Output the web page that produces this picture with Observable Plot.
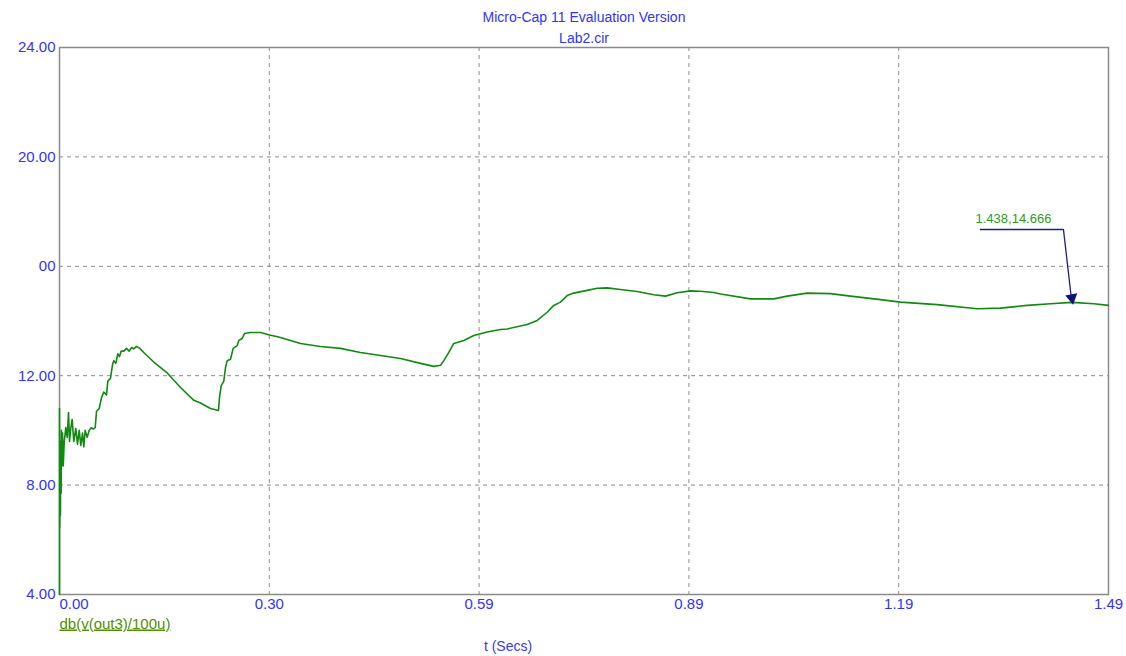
<!DOCTYPE html>
<html>
<head>
<meta charset="utf-8">
<script src="https://cdn.jsdelivr.net/npm/d3@7"></script>
<script src="https://cdn.jsdelivr.net/npm/@observablehq/plot@0.6"></script>
<style>
  html, body { margin: 0; padding: 0; background: #fff; }
  #chart svg { display: block; }
  .underlined text { text-decoration: underline; }
</style>
</head>
<body>
<div id="chart"></div>
<script>
// ---- data ----
const times = [0, 0, 0.0004, 0.0009, 0.0013, 0.0018, 0.0023, 0.0028, 0.0033, 0.0043, 0.0053, 0.0067, 0.0089, 0.0109, 0.0128, 0.0142, 0.0161, 0.018, 0.0203, 0.0232, 0.0256, 0.028, 0.0303, 0.0327, 0.0345, 0.0365, 0.0393, 0.0422, 0.045, 0.0479, 0.0507, 0.0526, 0.0564, 0.0597, 0.0629, 0.0668, 0.0686, 0.0724, 0.0753, 0.0771, 0.08, 0.0828, 0.0852, 0.0876, 0.0913, 0.0952, 0.099, 0.1027, 0.1055, 0.1094, 0.1141, 0.1197, 0.1339, 0.153, 0.1719, 0.1908, 0.2003, 0.2145, 0.2258, 0.2272, 0.2297, 0.2334, 0.2358, 0.2382, 0.2429, 0.2467, 0.2524, 0.2547, 0.2595, 0.2628, 0.2713, 0.2855, 0.2973, 0.3139, 0.3423, 0.3707, 0.3991, 0.4275, 0.456, 0.4844, 0.5128, 0.5317, 0.5412, 0.5459, 0.553, 0.56, 0.5743, 0.5885, 0.6075, 0.6264, 0.6359, 0.6643, 0.6785, 0.6927, 0.7021, 0.7116, 0.7211, 0.7305, 0.7495, 0.7638, 0.7779, 0.7968, 0.8206, 0.8441, 0.8608, 0.8774, 0.8963, 0.9105, 0.9294, 0.9389, 0.9815, 1.0146, 1.0336, 1.062, 1.0951, 1.1235, 1.1661, 1.1946, 1.2467, 1.3035, 1.3366, 1.3745, 1.4076, 1.438, 1.4692, 1.49];
const dbValues = [4.0, 10.8, 6.45, 9.6, 6.9, 9.0, 7.7, 10.0, 8.7, 9.9, 8.7, 9.56, 10.1, 9.74, 10.65, 9.6, 10.1, 10.4, 9.6, 10.07, 9.5, 10.0, 9.45, 9.9, 9.4, 10.0, 9.75, 10.0, 10.1, 10.05, 10.1, 10.7, 10.8, 11.2, 11.4, 11.3, 11.8, 11.9, 12.4, 12.55, 12.45, 12.8, 12.7, 12.9, 12.9, 13.0, 12.9, 13.03, 12.98, 13.07, 13.0, 12.85, 12.5, 12.1, 11.57, 11.1, 11.0, 10.8, 10.73, 11.2, 11.64, 11.8, 12.3, 12.55, 12.6, 13.0, 13.1, 13.29, 13.36, 13.54, 13.58, 13.58, 13.5, 13.4, 13.18, 13.07, 13.0, 12.85, 12.74, 12.63, 12.45, 12.34, 12.38, 12.55, 12.85, 13.18, 13.29, 13.47, 13.6, 13.69, 13.71, 13.87, 14.02, 14.32, 14.57, 14.69, 14.93, 15.02, 15.12, 15.2, 15.21, 15.15, 15.08, 14.96, 14.91, 15.03, 15.1, 15.09, 15.04, 14.99, 14.81, 14.81, 14.91, 15.02, 15.0, 14.91, 14.78, 14.69, 14.6, 14.45, 14.47, 14.57, 14.63, 14.68, 14.63, 14.57];

const xTickValues = [0, 0.298, 0.596, 0.894, 1.192, 1.49];
const xTickLabels = ["0.00", "0.30", "0.59", "0.89", "1.19", "1.49"];
const yTickValues = [4, 8, 12, 16, 20, 24];
const yTickLabels = ["4.00", "8.00", "12.00", "00", "20.00", "24.00"];

const titleLines = ["Micro-Cap 11 Evaluation Version", "Lab2.cir"];
const seriesLabel = "db(v(out3)/100u)";
const xAxisLabel = "t (Secs)";

// annotation: point and the label anchor (data units)
const annotPoint = {t: 1.438, v: 14.666, text: "1.438,14.666"};
const annotLabel = {tStart: 1.308, tEnd: 1.426, v: 17.35};

// ---- build ----
const data = times.map((t, i) => ({t, v: dbValues[i]}));
const xTicks = xTickValues.map((x, i) => ({x, label: xTickLabels[i]}));
const yTicks = yTickValues.map((y, i) => ({y, label: yTickLabels[i]}));

const blue = "#3333ff";
const gridColor = "#8c8c8c";
const font = "'Liberation Sans', Arial, sans-serif";

const chart = Plot.plot({
  width: 1126,
  height: 656,
  marginLeft: 59,
  marginRight: 18,
  marginTop: 47,
  marginBottom: 62,
  style: {fontFamily: font, fontSize: "15px", background: "#fff"},
  x: {domain: [0, 1.49], axis: null},
  y: {domain: [4, 24], axis: null},
  marks: [
    // grid
    Plot.ruleX(xTicks.slice(1, -1), {x: "x", stroke: gridColor, strokeDasharray: "4,4", strokeWidth: 1}),
    Plot.ruleY(yTicks.slice(1, -1), {y: "y", stroke: gridColor, strokeDasharray: "4,4", strokeWidth: 1}),
    Plot.frame({stroke: "#8a8a8a", strokeWidth: 1.5}),
    // y tick labels
    Plot.text(yTicks, {x: 0, y: "y", text: "label", textAnchor: "end", dx: -4, fill: blue, fontSize: 15}),
    // x tick labels
    Plot.text(xTicks.slice(0, 1), {x: "x", text: "label", frameAnchor: "bottom", dy: 14, textAnchor: "start", fill: blue, fontSize: 15}),
    Plot.text(xTicks.slice(1), {x: "x", text: "label", frameAnchor: "bottom", dy: 14, textAnchor: "middle", fill: blue, fontSize: 15}),
    // title
    Plot.text([titleLines[0]], {frameAnchor: "top", dy: -35, fill: blue, fontSize: 14}),
    Plot.text([titleLines[1]], {frameAnchor: "top", dy: -14, fill: blue, fontSize: 14}),
    // series label and x label
    Plot.text([seriesLabel], {frameAnchor: "bottom-left", dy: 34, textAnchor: "start", fill: "#4f8f00", fontSize: 15, className: "underlined"}),
    Plot.text([xAxisLabel], {frameAnchor: "bottom", dx: -76, dy: 56, fill: "#3a3aee", fontSize: 14}),
    // data line
    Plot.line(data, {x: "t", y: "v", stroke: "#118a11", strokeWidth: 1.6}),
    // annotation
    Plot.ruleY([annotLabel], {x1: "tStart", x2: "tEnd", y: "v", stroke: "#1f1f8a", strokeWidth: 1.5}),
    Plot.arrow([annotLabel], {x1: "tEnd", y1: "v", x2: () => annotPoint.t, y2: () => annotPoint.v, stroke: "#1f1f8a", strokeWidth: 1.3, headLength: 0, insetEnd: 4}),
    Plot.dot([annotPoint], {x: "t", y: "v", symbol: "triangle", rotate: 170, r: 4.5, fill: "#10107a", stroke: "none", dy: -5, dx: 0}),
    Plot.text([annotLabel], {x: d => (d.tStart + d.tEnd) / 2 - 0.012, y: "v", dy: -11, text: () => annotPoint.text, fill: "#2f9a1f", fontSize: 13})
  ]
});

document.getElementById("chart").appendChild(chart);
</script>
</body>
</html>
